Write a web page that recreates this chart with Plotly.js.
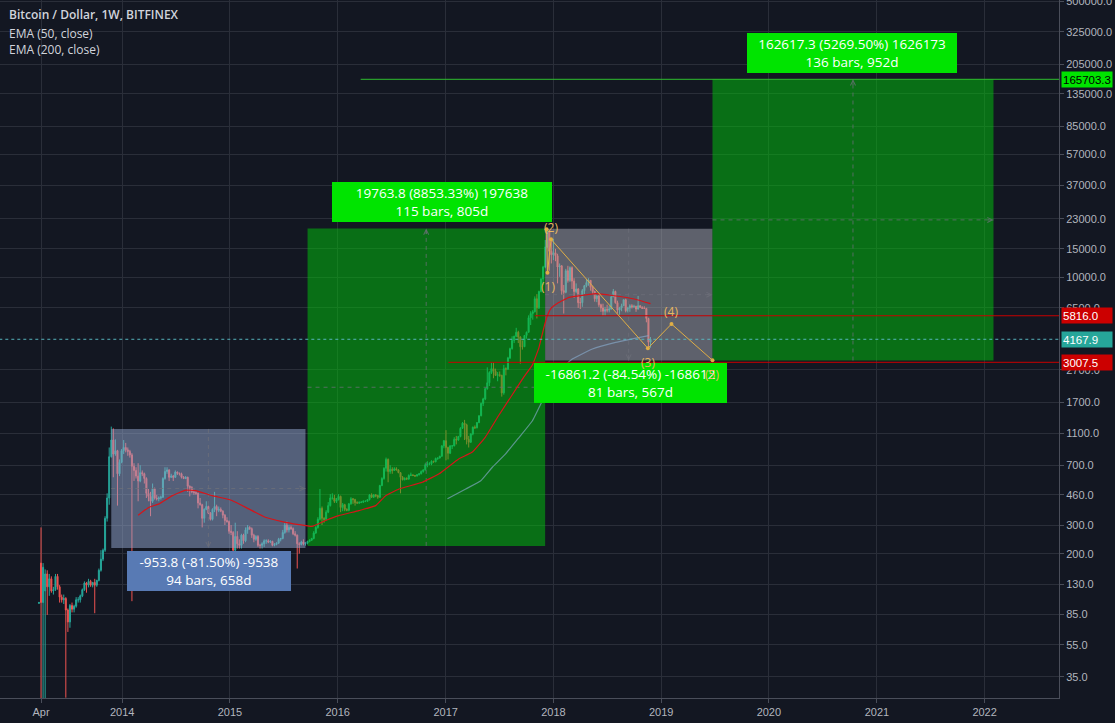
<!DOCTYPE html>
<html>
<head>
<meta charset="utf-8">
<script src="https://cdn.plot.ly/plotly-3.0.1.min.js"></script>
<style>
html,body{margin:0;padding:0;background:#131722;overflow:hidden;}
#chart{width:1115px;height:723px;}
</style>
</head>
<body>
<div id="chart"></div>
<script>
// ---------- DATA (Bitfinex BTC/USD, weekly bars, first bar week of 2013-03-25) ----------
const firstWeek = '2013-03-25';
const open = [
// 2013
99,175,100,118,150,125,140,118,120,145,125,108,104,106,90,76,96,91,95,104,104,110,120,132,128,135,128,133,128,137,158,185,210,330,440,790,1000,820,860,620,730,
// 2014
860,900,870,850,810,690,650,600,560,630,620,580,470,450,420,500,440,435,440,445,580,640,655,590,600,590,635,625,620,590,580,590,520,510,480,475,470,410,400,330,375,390,355,325,375,390,370,375,365,345,320,315,
// 2015
275,270,210,255,230,225,260,240,280,290,285,260,245,255,225,225,230,240,240,236,238,225,228,232,245,248,270,300,280,290,285,265,260,230,228,236,230,232,238,242,248,268,290,325,380,330,325,360,395,440,440,420,
// 2016
430,450,385,400,375,370,405,435,430,412,410,412,415,420,420,430,460,445,460,455,445,525,580,670,760,640,660,650,665,655,630,590,570,580,575,605,610,605,600,612,620,640,655,705,710,715,740,735,770,775,795,920,
// 2017
990,900,830,920,920,1010,1000,1050,1180,1270,1240,1010,970,1090,1200,1190,1280,1410,1680,1790,2070,2250,2600,2750,2650,2500,2520,2500,1950,2750,2730,3200,3650,4100,4350,4600,4300,3750,3750,4400,4600,5650,6000,6150,7400,6500,8200,9800,11600,15400,19100,14500,
// 2018
13800,14200,13600,11600,11800,8300,8100,11000,9600,11500,9500,8200,8500,7000,7000,8300,8900,9300,9600,8700,8200,7400,7700,6800,6500,6200,6350,6300,6400,7600,8200,7000,6300,6500,6700,7300,6250,6500,6700,6600,6650,6400,6700,6550,6450,6450,5600,4000
];
const high = [
101,290,175,160,158,150,145,125,150,150,128,112,112,108,92,98,100,97,108,108,112,122,135,134,140,138,134,140,138,162,210,215,340,470,900,1210,1180,1010,870,760,880,
1000,960,900,870,830,720,680,720,700,650,630,590,500,480,540,510,460,450,455,590,680,680,660,620,610,650,640,630,630,600,600,595,525,520,495,485,475,440,405,380,420,395,360,380,480,400,390,385,370,350,335,320,
300,275,310,275,245,265,265,290,300,295,290,265,260,260,230,235,245,245,245,242,240,232,235,250,250,280,310,315,300,298,290,275,262,235,240,245,235,240,245,250,275,295,335,500,390,335,370,415,465,470,460,440,
465,455,410,405,380,410,445,440,435,420,420,420,425,425,432,465,470,465,465,460,530,590,680,780,770,700,680,680,680,660,635,600,590,590,615,630,615,610,615,625,650,660,720,740,730,750,745,780,780,800,930,1000,
1150,910,930,930,1040,1060,1060,1200,1290,1330,1260,1060,1100,1210,1230,1290,1420,1700,1820,2100,2800,2650,3000,3000,2750,2620,2640,2520,2900,2800,3250,3700,4350,4380,4900,4700,4350,4100,4400,4650,5850,6200,6300,7650,7900,8300,9900,11800,17000,19900,19200,16800,
17300,15000,14000,12200,11900,9000,11300,11800,11700,11700,9900,9200,8600,7500,8500,9000,9800,9900,9650,8900,8300,7800,7800,6900,6900,6600,6800,6700,7700,8500,8300,7200,6600,6900,7300,7400,6600,6850,6850,6800,6700,7700,6750,6650,6650,6500,5650,4300
];
const low = [
98,22,22,22,84,110,115,112,118,120,100,100,98,26,66,70,87,87,93,100,100,108,118,115,124,125,124,86,125,135,155,180,205,315,400,780,590,800,395,600,720,
820,840,800,780,102,560,580,420,550,600,540,440,420,340,410,430,425,420,430,440,570,620,560,585,560,585,610,605,580,575,575,480,450,470,460,460,380,395,290,310,370,350,320,320,360,340,360,360,330,300,310,265,
260,155,200,215,215,215,230,235,265,280,250,235,240,220,215,215,220,230,232,232,222,222,225,230,238,245,265,270,270,280,260,255,162,200,225,225,224,228,235,240,245,265,285,320,300,310,320,355,390,430,410,410,
425,360,365,365,365,365,400,405,395,405,405,410,410,415,418,425,440,440,445,435,440,520,570,640,550,620,620,645,650,625,470,565,565,570,570,600,600,595,598,605,615,630,650,680,700,700,725,730,755,770,790,890,
750,760,820,880,915,940,990,1040,1170,1000,940,900,960,1070,1170,1180,1270,1400,1620,1760,2040,2150,2550,2400,2480,2300,2450,1850,1900,2500,2700,3150,3600,3950,4300,3950,2950,3600,3750,4200,4600,5100,5500,6100,5600,6400,8100,9000,11400,15200,11000,12200,
12800,12600,9200,10100,7800,6000,8000,9300,9400,8500,7500,8000,6500,6400,6600,7900,8700,8900,8300,7900,7100,7050,6600,6150,5800,5800,6100,6100,6350,7600,6900,6000,5900,6200,6700,6100,6100,6150,6450,6500,6150,6350,6500,6400,6400,5300,3600,3700
];
const close = [
100,100,165,150,125,140,118,120,145,125,108,104,106,90,76,96,91,95,104,104,110,120,132,128,135,128,133,128,137,158,185,210,330,440,790,1000,820,860,620,730,860,
900,870,850,810,690,650,600,560,630,620,580,470,450,420,500,440,435,440,445,580,640,655,590,600,590,635,625,620,590,580,590,520,510,480,475,470,410,400,330,375,390,355,325,375,390,370,375,365,345,320,315,275,
270,210,255,230,225,260,240,280,290,285,260,245,255,225,225,230,240,240,236,238,225,228,232,245,248,270,300,280,290,285,265,260,230,228,236,230,232,238,242,248,268,290,325,380,330,325,360,395,440,440,420,430,
450,385,400,375,370,405,435,430,412,410,412,415,420,420,430,460,445,460,455,445,525,580,670,760,640,660,650,665,655,630,590,570,580,575,605,610,605,600,612,620,640,655,705,710,715,740,735,770,775,795,920,990,
900,830,920,920,1010,1000,1050,1180,1270,1240,1010,970,1090,1200,1190,1280,1410,1680,1790,2070,2250,2600,2750,2650,2500,2520,2500,1950,2750,2730,3200,3650,4100,4350,4600,4300,3750,3750,4400,4600,5650,6000,6150,7400,6500,8200,9800,11600,15400,19100,14500,13800,
14200,13600,11600,11800,8300,8100,11000,9600,11500,9500,8200,8500,7000,7000,8300,8900,9300,9600,8700,8200,7400,7700,6800,6500,6200,6350,6300,6400,7600,8200,7000,6300,6500,6700,7300,6250,6500,6700,6600,6650,6400,6700,6550,6450,6450,5600,4000,4167.9
];

// EMA lines
const ema50Dates = ['2014-02-24','2014-04-01','2014-05-06','2014-06-20','2014-08-04','2014-09-07','2014-11-02','2015-01-08','2015-03-06','2015-05-01','2015-06-27','2015-08-22','2015-10-06','2015-11-21','2016-01-05','2016-03-13','2016-05-09','2016-06-12','2016-07-27','2016-10-14','2016-12-10','2017-02-14','2017-03-31','2017-05-15','2017-06-29','2017-08-13','2017-09-22','2017-10-22','2017-11-13','2017-11-27','2017-12-11','2017-12-25','2018-01-15','2018-02-23','2018-05-24','2018-07-19','2018-10-06','2018-11-26'];
const ema50Values = [345,385,405,455,492,488,455,425,377,335,315,302,294,320,343,368,395,455,500,550,620,765,840,1040,1410,1880,2430,2900,3700,4700,5800,6500,6950,7550,7950,7750,7350,6900];
const ema200Dates = ['2017-01-07','2017-03-10','2017-04-30','2017-06-08','2017-07-23','2017-09-07','2017-10-22','2017-11-25','2017-12-28','2018-02-12','2018-03-06','2018-05-13','2018-07-31','2018-09-25','2018-11-20'];
const ema200Values = [435,500,562,680,822,1040,1315,1750,2300,2900,3150,3630,3990,4190,4390];

// Price-range measurements (start date, end date, start price, end price, label lines)
const rangeStart = ['2013-11-25','2015-09-21','2017-12-04','2019-06-24'];
const rangeEnd   = ['2015-09-14','2017-12-04','2019-06-24','2022-01-31'];
const rangeFrom  = [1170.3, 223.2, 19944.6, 3086.0];
const rangeTo    = [216.5, 19987.0, 3083.4, 165703.3];
const rangeText1 = ['-953.8 (-81.50%) -9538','19763.8 (8853.33%) 197638','-16861.2 (-84.54%) -168612','162617.3 (5269.50%) 1626173'];
const rangeText2 = ['94 bars, 658d','115 bars, 805d','81 bars, 567d','136 bars, 952d'];

// Horizontal levels
const levelPrices = [165703.3, 5816.0, 4167.9, 3007.5];
const levelStart  = ['2016-03-19','2017-10-30','2012-10-01','2017-01-10'];

// Elliott wave
const waveDates  = ['2017-12-09','2017-12-12','2017-12-24','2018-11-17','2019-02-05','2019-06-24'];
const wavePrices = [19800, 10700, 17180, 3667, 5176, 3095];
const waveLabels = ['', '(1)', '(2)', '(3)', '(4)', '(5)'];

// Axis ticks
const xTickVals = ['2013-04-01','2014-01-01','2015-01-01','2016-01-01','2017-01-01','2018-01-01','2019-01-01','2020-01-01','2021-01-01','2022-01-01'];
const xTickText = ['Apr','2014','2015','2016','2017','2018','2019','2020','2021','2022'];
const yTickVals = [35,55,85,130,200,300,460,700,1100,1700,2700,6500,10000,15000,23000,37000,57000,85000,135000,205000,325000,500000];

// ---------- STYLE ----------
const BG = '#131722', GRID = '#2a2e39', AXIS = '#4a4e5a', TXT = '#b2b5be';
const rangeFill = ['rgba(150,170,210,0.5)','rgba(0,200,10,0.5)','rgba(170,172,182,0.5)','rgba(0,200,10,0.5)'];
const labelBg   = ['#587ab4','#00e400','#00e400','#00e400'];
// label boxes: centre x, centre y, width (pixels of the page)
const labelBox  = [[209,570.5,164],[442,201.5,220],[630.5,382.5,193],[852,53,210]];
const levelColor = ['#2fbf2f','#c80000','rgba(90,185,195,0.95)','#c80000'];
const levelDash  = ['solid','solid','dot','solid'];
const levelLabelBg = ['#00e400','#cc0000','#26a69a','#cc0000'];
const levelLabelFg = ['#000000','#ffffff','#ffffff','#ffffff'];
const PW = 1059, PH = 698;

const weekMs = 7*864e5;
const t0 = Date.parse(firstWeek);
const weeks = close.map((_, i) => new Date(t0 + i*weekMs).toISOString().slice(0,10));

const traces = [];
traces.push({
  type:'candlestick', x:weeks, open:open, high:high, low:low, close:close,
  increasing:{line:{color:'#26a69a', width:1}, fillcolor:'#26a69a'},
  decreasing:{line:{color:'#ef5350', width:1}, fillcolor:'#ef5350'},
  whiskerwidth:0, hoverinfo:'skip', showlegend:false
});

const annotations = [];
const midDate = (a,b) => new Date((Date.parse(a)+Date.parse(b))/2).toISOString().slice(0,10);

for (let i=0;i<rangeStart.length;i++){
  const s=rangeStart[i], e=rangeEnd[i], lo=Math.min(rangeFrom[i],rangeTo[i]), hi=Math.max(rangeFrom[i],rangeTo[i]);
  traces.push({type:'scatter', mode:'lines', x:[s,e,e,s,s], y:[lo,lo,hi,hi,lo], fill:'toself',
    fillcolor:rangeFill[i], line:{width:0}, hoverinfo:'skip', showlegend:false});
  const md = midDate(s,e), mp = Math.sqrt(lo*hi);
  const dashCol = 'rgba(110,112,122,0.75)';
  traces.push({type:'scatter', mode:'lines', x:[md,md], y:[rangeFrom[i],rangeTo[i]], line:{color:dashCol,width:1,dash:'4px,4px'}, hoverinfo:'skip', showlegend:false});
  traces.push({type:'scatter', mode:'lines', x:[s,e], y:[mp,mp], line:{color:dashCol,width:1,dash:'4px,4px'}, hoverinfo:'skip', showlegend:false});
  annotations.push({x:e, y:Math.log10(mp), ax:-7, ay:0, showarrow:true, arrowhead:5, arrowsize:1, arrowwidth:1, arrowcolor:dashCol, text:''});
  const up = rangeTo[i] > rangeFrom[i];
  annotations.push({x:md, y:Math.log10(rangeTo[i]), ax:0, ay: up? 7 : -7, showarrow:true, arrowhead:5, arrowsize:1, arrowwidth:1, arrowcolor:dashCol, text:''});
}

traces.push({type:'scatter', mode:'lines', x:ema50Dates, y:ema50Values, line:{color:'rgb(215,20,25)', width:1.2, shape:'spline', smoothing:0.3}, hoverinfo:'skip', showlegend:false});
traces.push({type:'scatter', mode:'lines', x:ema200Dates, y:ema200Values, line:{color:'rgba(135,170,205,0.65)', width:1.2, shape:'spline', smoothing:0.3}, hoverinfo:'skip', showlegend:false});

for (let i=0;i<levelPrices.length;i++){
  traces.push({type:'scatter', mode:'lines', x:[levelStart[i],'2023-12-31'], y:[levelPrices[i],levelPrices[i]],
    line:{color:levelColor[i], width:1, dash:levelDash[i]}, hoverinfo:'skip', showlegend:false});
}

traces.push({type:'scatter', mode:'lines+markers', x:waveDates, y:wavePrices,
  line:{color:'#e0ae45', width:1}, marker:{size:4, color:'#e0ae45'}, hoverinfo:'skip', showlegend:false});

for (let i=0;i<rangeText1.length;i++){
  const b = labelBox[i];
  annotations.push({xref:'paper', yref:'paper', x:b[0]/PW, y:1-b[1]/PH, xanchor:'center', yanchor:'middle',
    text: rangeText1[i] + '<br>' + rangeText2[i], showarrow:false, bgcolor:labelBg[i], bordercolor:labelBg[i],
    borderwidth:1, borderpad:1, width:b[2]-4, align:'center',
    font:{family:'Open Sans, sans-serif', size:13.5, color:'#ffffff'}});
}

for (let i=1;i<waveLabels.length;i++){
  const isLow = wavePrices[i] < wavePrices[i-1];
  annotations.push({x:waveDates[i], y:Math.log10(wavePrices[i]), yshift: isLow ? -14 : 12, text:waveLabels[i],
    showarrow:false, font:{family:'Open Sans, sans-serif', size:12, color:'#e8b760'}});
}

for (let i=0;i<levelPrices.length;i++){
  annotations.push({xref:'paper', x:1, xanchor:'left', xshift:2, yref:'y', y:Math.log10(levelPrices[i]), yanchor:'middle',
    text: levelPrices[i].toFixed(1), showarrow:false, bgcolor:levelLabelBg[i], borderpad:1, width:48, height:13, align:'left',
    font:{family:'Liberation Sans, Arial, sans-serif', size:11.5, color:levelLabelFg[i]}});
}

const legendLines = ['Bitcoin / Dollar, 1W, BITFINEX','EMA (50, close)','EMA (200, close)'];
const legendY = [15,33,50];
legendLines.forEach((t,i)=>{
  annotations.push({xref:'paper', yref:'paper', x:0, y:1-legendY[i]/PH, xanchor:'left', yanchor:'middle', xshift:7,
    text:t, showarrow:false, font:{family:'Open Sans, sans-serif', size:12, color:'#d1d4dc', weight: i===0?600:400}});
});

const layout = {
  width:1115, height:723,
  margin:{l:0, r:56, t:0, b:25},
  paper_bgcolor:BG, plot_bgcolor:BG, showlegend:false,
  xaxis:{type:'date', range:['2012-11-13','2022-09-10'], tickvals:xTickVals, ticktext:xTickText,
    gridcolor:GRID, gridwidth:1, showline:true, linecolor:AXIS, ticks:'outside', ticklen:4, tickcolor:AXIS,
    tickfont:{family:'Liberation Sans, Arial, sans-serif', size:11, color:TXT}, rangeslider:{visible:false}, zeroline:false, fixedrange:true},
  yaxis:{type:'log', side:'right', range:[1.4129, 5.7073], tickvals:yTickVals, ticktext:yTickVals.map(v=>v.toFixed(1)),
    gridcolor:GRID, gridwidth:1, showline:true, linecolor:AXIS, ticks:'outside', ticklen:4, tickcolor:AXIS,
    ticklabeloverflow:'allow',
    tickfont:{family:'Liberation Sans, Arial, sans-serif', size:11, color:TXT}, zeroline:false, fixedrange:true},
  annotations:annotations
};

Plotly.newPlot('chart', traces, layout, {staticPlot:true, displayModeBar:false});
</script>
</body>
</html>
